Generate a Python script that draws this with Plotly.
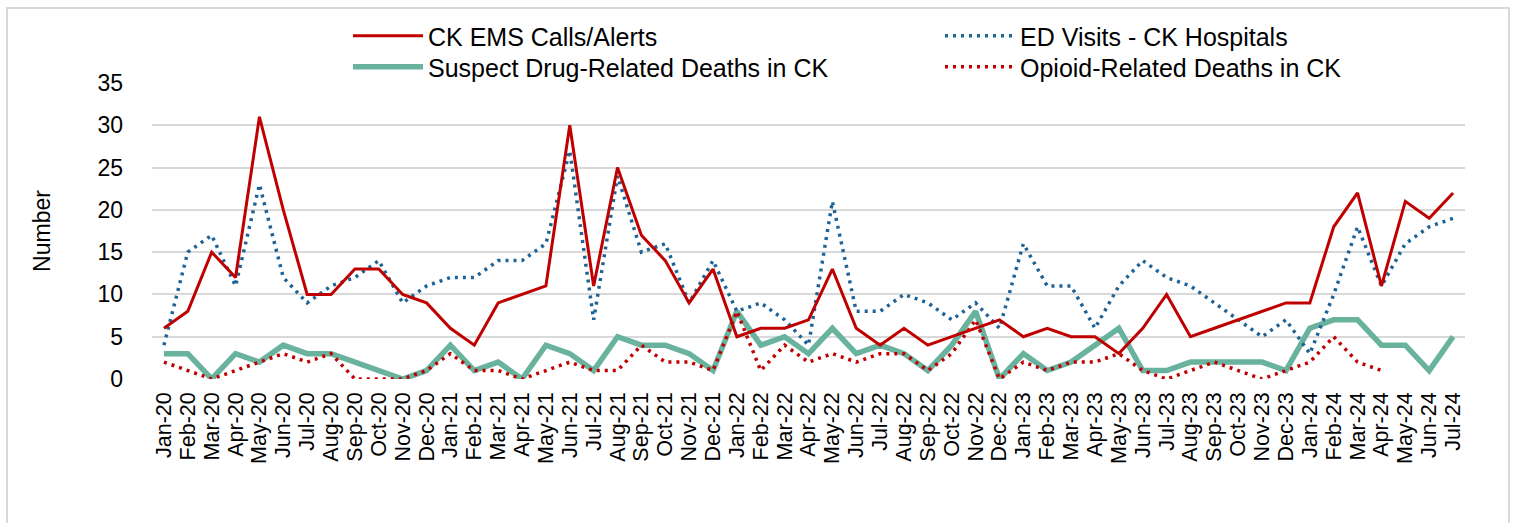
import plotly.graph_objects as go

months = ["Jan-20","Feb-20","Mar-20","Apr-20","May-20","Jun-20","Jul-20","Aug-20","Sep-20","Oct-20","Nov-20","Dec-20",
          "Jan-21","Feb-21","Mar-21","Apr-21","May-21","Jun-21","Jul-21","Aug-21","Sep-21","Oct-21","Nov-21","Dec-21",
          "Jan-22","Feb-22","Mar-22","Apr-22","May-22","Jun-22","Jul-22","Aug-22","Sep-22","Oct-22","Nov-22","Dec-22",
          "Jan-23","Feb-23","Mar-23","Apr-23","May-23","Jun-23","Jul-23","Aug-23","Sep-23","Oct-23","Nov-23","Dec-23",
          "Jan-24","Feb-24","Mar-24","Apr-24","May-24","Jun-24","Jul-24"]

ems_calls = [6, 8, 15, 12, 31, 20, 10, 10, 13, 13, 10, 9,
             6, 4, 9, 10, 11, 30, 11, 25, 17, 14, 9, 13,
             5, 6, 6, 7, 13, 6, 4, 6, 4, 5, 6, 7,
             5, 6, 5, 5, 3, 6, 10, 5, 6, 7, 8, 9,
             9, 18, 22, 11, 21, 19, 22]

ed_visits = [4, 15, 17, 11, 23, 12, 9, 11, 12, 14, 9, 11,
             12, 12, 14, 14, 16, 27, 7, 24, 15, 16, 9, 14,
             8, 9, 7, 4, 21, 8, 8, 10, 9, 7, 9, 6,
             16, 11, 11, 6, 11, 14, 12, 11, 9, 7, 5, 7,
             3, 10, 18, 11, 16, 18, 19]

suspect_deaths = [3, 3, 0, 3, 2, 4, 3, 3, 2, 1, 0, 1,
                  4, 1, 2, 0, 4, 3, 1, 5, 4, 4, 3, 1,
                  8, 4, 5, 3, 6, 3, 4, 3, 1, 4, 8, 0,
                  3, 1, 2, 4, 6, 1, 1, 2, 2, 2, 2, 1,
                  6, 7, 7, 4, 4, 1, 5]

opioid_deaths = [2, 1, 0, 1, 2, 3, 2, 3, 0, 0, 0, 1,
                 3, 1, 1, 0, 1, 2, 1, 1, 4, 2, 2, 1,
                 8, 1, 4, 2, 3, 2, 3, 3, 1, 3, 7, 0,
                 2, 1, 2, 2, 3, 1, 0, 1, 2, 1, 0, 1,
                 2, 5, 2, 1, None, None, None]

RED = "#C00000"
BLUE = "#1F6396"
GREEN = "#69B39E"
FONT = "Liberation Sans, Arial, sans-serif"

fig = go.Figure()
fig.add_trace(go.Scatter(x=months, y=suspect_deaths, mode="lines", name="Suspect Drug-Related Deaths in CK",
                         line=dict(color=GREEN, width=5.5), legend="legend3"))
fig.add_trace(go.Scatter(x=months, y=opioid_deaths, mode="lines", name="Opioid-Related Deaths in CK",
                         line=dict(color=RED, width=3.5, dash="3px,5px"), legend="legend4",
                         connectgaps=False))
fig.add_trace(go.Scatter(x=months, y=ed_visits, mode="lines", name="ED Visits - CK Hospitals",
                         line=dict(color=BLUE, width=3.5, dash="3px,5px"), legend="legend2"))
fig.add_trace(go.Scatter(x=months, y=ems_calls, mode="lines", name="CK EMS Calls/Alerts",
                         line=dict(color=RED, width=3), legend="legend"))

W, H = 1515, 523
L, R, T, B = 152, 50, 83, 144
pw = W - L - R
ph = H - T - B

def px_x(x):
    return (x - L) / pw

def px_y(y):
    return (H - B - y) / ph

IW = 70

def leg(xp, yp):
    return dict(x=px_x(xp), y=px_y(yp), xanchor="left", yanchor="top",
                font=dict(size=25, family=FONT), bgcolor="rgba(0,0,0,0)",
                itemwidth=IW)

fig.update_layout(
    width=W, height=H,
    margin=dict(l=L, r=R, t=T, b=B),
    paper_bgcolor="white", plot_bgcolor="white",
    font=dict(family=FONT, color="black", size=22),
    showlegend=True,
    legend=leg(348, 13),
    legend2=leg(940, 13),
    legend3=leg(348, 44),
    legend4=leg(940, 44),
    xaxis=dict(type="category", categoryorder="array", categoryarray=months,
               tickmode="array", tickvals=months, ticktext=months,
               range=[-0.5, len(months) - 0.5], tickangle=-90, showgrid=False,
               showline=False, zeroline=False, ticks="", tickfont=dict(size=21.5, family=FONT),
               ticklabelstandoff=8),
    yaxis=dict(range=[0, 35], dtick=5, tick0=0, showgrid=True, gridcolor="#D9D9D9", gridwidth=2,
               zeroline=False, showline=False, ticks="", tickfont=dict(size=23, family=FONT),
               ticklabelstandoff=28,
               title=dict(text="Number", font=dict(size=23, family=FONT), standoff=40)),
    shapes=[dict(type="rect", xref="paper", yref="paper",
                 x0=px_x(7), x1=px_x(1509), y0=px_y(540), y1=px_y(8),
                 line=dict(color="#D9D9D9", width=2), fillcolor="rgba(0,0,0,0)", layer="below")],
)

fig.write_html("out.html", config={"displayModeBar": False},
               post_script="document.body.style.margin='0';")
